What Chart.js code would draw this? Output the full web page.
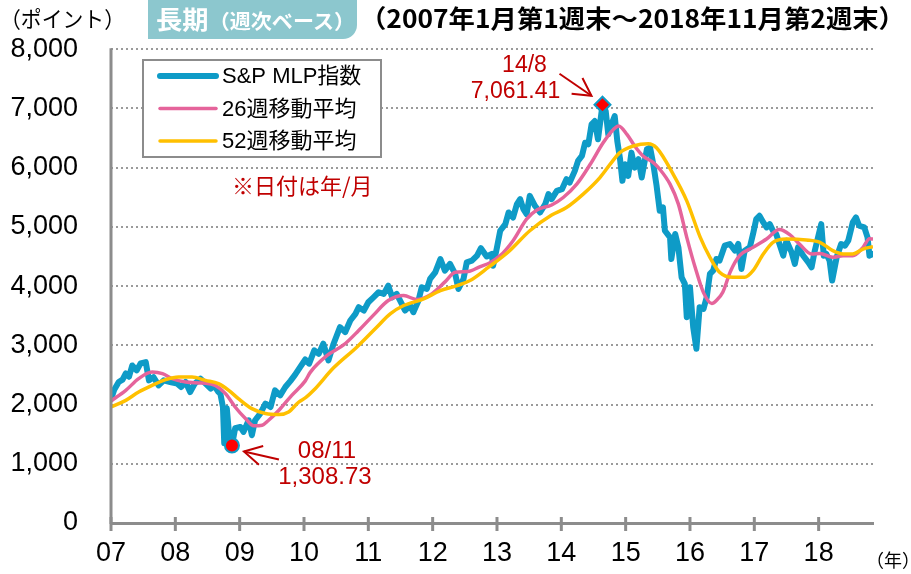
<!DOCTYPE html>
<html><head><meta charset="utf-8">
<script src="https://cdn.jsdelivr.net/npm/chart.js@4/dist/chart.umd.min.js"></script>
<style>
html,body{margin:0;padding:0;background:#fff;width:911px;height:574px;overflow:hidden;}
#wrap{position:relative;width:911px;height:574px;}
canvas{position:absolute;left:0;top:0;}
.lbl{position:absolute;white-space:nowrap;font-family:"Noto Sans CJK JP",sans-serif;line-height:1;transform-origin:0 0;}
</style></head><body>
<div id="wrap">
<canvas id="c" width="911" height="574"></canvas>
<div class="lbl" id="yunit" style="left:0;top:6px;font-size:22px;color:#000;">（ポイント）</div>
<div id="tbox" style="position:absolute;left:148px;top:0;width:209px;height:39px;background:#8CC7CE;border-radius:0 0 14px 0;"></div>
<div class="lbl" id="t1" style="left:156px;top:6px;color:#fff;font-weight:bold;"><span style="font-size:25px">長期</span><span style="font-size:20px">（週次ベース）</span></div>
<div class="lbl" id="t2" style="left:360px;top:5px;font-size:25px;font-weight:bold;color:#000;">（2007年1月第1週末～2018年11月第2週末）</div>
<div class="lbl" id="tyear" style="left:866px;top:550px;font-size:18px;color:#000;">（年）</div>
</div>
<script>
// ---- data (decimal year) ----
const mlpDates = [2007.00,2007.05,2007.12,2007.18,2007.23,2007.28,2007.33,2007.40,2007.46,2007.54,2007.59,2007.66,2007.74,2007.82,2007.92,2008.03,2008.09,2008.16,2008.23,2008.30,2008.39,2008.47,2008.55,2008.60,2008.67,2008.70,2008.74,2008.76,2008.80,2008.83,2008.88,2008.93,2009.01,2009.06,2009.14,2009.19,2009.24,2009.32,2009.40,2009.48,2009.55,2009.63,2009.71,2009.79,2009.86,2009.94,2010.02,2010.08,2010.16,2010.23,2010.30,2010.38,2010.46,2010.56,2010.64,2010.72,2010.80,2010.85,2010.93,2011.00,2011.08,2011.16,2011.24,2011.31,2011.37,2011.44,2011.52,2011.57,2011.65,2011.70,2011.78,2011.83,2011.91,2011.96,2012.04,2012.12,2012.19,2012.27,2012.35,2012.40,2012.48,2012.53,2012.61,2012.69,2012.75,2012.84,2012.92,2012.94,2013.00,2013.05,2013.13,2013.18,2013.25,2013.31,2013.36,2013.41,2013.46,2013.51,2013.59,2013.67,2013.75,2013.80,2013.85,2013.93,2014.01,2014.08,2014.13,2014.21,2014.26,2014.32,2014.37,2014.42,2014.47,2014.52,2014.57,2014.64,2014.69,2014.73,2014.78,2014.83,2014.87,2014.91,2014.95,2014.99,2015.04,2015.09,2015.14,2015.20,2015.25,2015.33,2015.38,2015.43,2015.48,2015.53,2015.58,2015.61,2015.69,2015.71,2015.77,2015.82,2015.87,2015.92,2015.95,2016.00,2016.05,2016.10,2016.15,2016.21,2016.26,2016.31,2016.36,2016.41,2016.46,2016.54,2016.62,2016.70,2016.75,2016.80,2016.85,2016.93,2016.98,2017.03,2017.08,2017.14,2017.19,2017.24,2017.29,2017.34,2017.40,2017.45,2017.50,2017.58,2017.63,2017.68,2017.76,2017.84,2017.89,2017.94,2017.99,2018.04,2018.08,2018.12,2018.17,2018.21,2018.28,2018.35,2018.41,2018.46,2018.53,2018.58,2018.63,2018.71,2018.76,2018.79,2018.84];
const mlpIndex = [2090,2250,2380,2420,2526,2470,2660,2577,2695,2717,2408,2464,2324,2408,2380,2352,2296,2380,2211,2352,2437,2352,2268,2324,2211,2184,1959,1347,1937,1566,1308.73,1600,1622,1538,1735,1482,1735,1848,2016,1959,2240,2156,2296,2400,2500,2633,2760,2690,2914,2858,3027,2745,3027,3306,3222,3419,3532,3643,3587,3727,3811,3896,3868,4008,3811,3868,3700,3587,3672,3559,3756,3980,3952,4121,4233,4458,4261,4374,4205,3952,4121,4401,4430,4514,4640,4500,4542,4345,4654,4935,5047,5243,5159,5384,5469,5300,5216,5524,5356,5243,5384,5553,5469,5608,5636,5805,5748,5945,6114,6198,6421,6395,6731,6787,6479,7061.41,6956,6563,6731,6872,6451,6169,5777,6058,5861,6254,6000,6142,5833,6310,6337,6058,5700,5272,5327,4935,4823,4458,4879,4654,4148,4037,3475,3980,3306,2942,3643,3615,3811,4205,4261,4458,4430,4682,4711,4598,4711,4289,4598,4654,4879,5132,5187,5075,4991,5047,4935,4879,4682,4514,4767,4570,4374,4654,4514,4401,4317,4598,4823,5047,4514,4542,4430,4093,4486,4711,4682,4767,5075,5159,5019,4991,4823,4514,4542];

const ma26Dates = [2007.00,2007.23,2007.43,2007.64,2007.80,2007.95,2008.16,2008.42,2008.62,2008.78,2008.93,2009.09,2009.22,2009.35,2009.45,2009.61,2009.81,2010.02,2010.10,2010.36,2010.62,2010.85,2011.08,2011.31,2011.55,2011.75,2011.96,2012.20,2012.35,2012.55,2012.74,2012.89,2013.05,2013.25,2013.46,2013.62,2013.85,2014.03,2014.24,2014.45,2014.65,2014.81,2014.89,2015.02,2015.14,2015.27,2015.43,2015.53,2015.69,2015.82,2015.95,2016.08,2016.21,2016.34,2016.41,2016.51,2016.63,2016.77,2016.98,2017.19,2017.39,2017.55,2017.71,2017.89,2018.02,2018.22,2018.38,2018.53,2018.69,2018.79,2018.845];
const ma26 = [2060,2240,2437,2548,2521,2437,2380,2363,2324,2184,1959,1763,1640,1651,1735,1903,2156,2400,2548,2830,3010,3250,3510,3756,3840,3775,3850,4080,4233,4245,4330,4395,4514,4767,5130,5286,5370,5496,5721,6058,6421,6646,6703,6563,6366,6198,6085,5974,5721,5384,4823,4317,3890,3705,3756,3896,4250,4514,4654,4795,4955,4870,4700,4542,4550,4486,4514,4514,4654,4800,4795];

const ma52Dates = [2007.00,2007.23,2007.43,2007.64,2007.85,2008.05,2008.26,2008.47,2008.67,2008.83,2008.98,2009.19,2009.40,2009.61,2009.76,2009.92,2010.03,2010.15,2010.46,2010.82,2011.13,2011.34,2011.55,2011.86,2012.12,2012.38,2012.58,2012.87,2013.18,2013.51,2013.85,2014.08,2014.34,2014.60,2014.76,2014.91,2015.12,2015.35,2015.48,2015.74,2015.95,2016.16,2016.31,2016.46,2016.67,2016.85,2016.98,2017.14,2017.29,2017.50,2017.81,2018.02,2018.22,2018.38,2018.53,2018.69,2018.845];
const ma52 = [1960,2071,2211,2324,2420,2464,2464,2408,2352,2240,2100,1931,1848,1830,1875,2043,2120,2240,2620,2969,3306,3532,3672,3784,3924,4008,4093,4320,4580,4935,5200,5327,5553,5833,6058,6254,6366,6405,6337,5888,5440,4823,4486,4233,4148,4148,4261,4542,4738,4795,4778,4738,4598,4542,4542,4626,4665];

const yearTicks = [2007,2008,2009,2010,2011,2012,2013,2014,2015,2016,2017,2018];
const yearLabels = ['07','08','09','10','11','12','13','14','15','16','17','18'];
const seriesNames = ['S&P MLP指数','26週移動平均','52週移動平均'];
const peak = {date:2014.64, value:7061.41, label1:'14/8', label2:'7,061.41'};
const trough = {date:2008.88, value:1308.73, label1:'08/11', label2:'1,308.73'};

const BLUE='#0E9BC7', PINK='#E5649B', YELLOW='#FFC000', RED='#C00000', AXIS='#8C8C8C';
const NUMFONT='"Liberation Sans", Arial, sans-serif';
const JPFONT='"Liberation Sans","Noto Sans CJK JP", sans-serif';

const pts = (xs, ys) => xs.map((x,i)=>({x:x, y:ys[i]}));

function arrow(ctx, tx, ty, fx, fy){
  ctx.beginPath(); ctx.moveTo(fx,fy); ctx.lineTo(tx,ty); ctx.stroke();
  const a = Math.atan2(fy-ty, fx-tx), L=20, s=0.5;
  ctx.beginPath();
  ctx.moveTo(tx+L*Math.cos(a+s), ty+L*Math.sin(a+s));
  ctx.lineTo(tx,ty);
  ctx.lineTo(tx+L*Math.cos(a-s), ty+L*Math.sin(a-s));
  ctx.stroke();
}

const deco = {
  id:'deco',
  afterDraw(chart){
    const ctx=chart.ctx, a=chart.chartArea, xs=chart.scales.x, ys=chart.scales.y;
    ctx.save();
    // y axis line
    ctx.strokeStyle=AXIS; ctx.lineWidth=3;
    ctx.beginPath(); ctx.moveTo(a.left, a.top-1); ctx.lineTo(a.left, a.bottom+1); ctx.stroke();
    // x tick marks crossing the axis
    yearTicks.forEach(v=>{
      const px=xs.getPixelForValue(v);
      ctx.beginPath(); ctx.moveTo(px, a.bottom-6); ctx.lineTo(px, a.bottom+8); ctx.stroke();
    });
    // legend box
    const lx=143, ly=60, lw=238, lh=97;
    ctx.fillStyle='#fff'; ctx.fillRect(lx,ly,lw,lh);
    ctx.strokeStyle=AXIS; ctx.lineWidth=2; ctx.strokeRect(lx,ly,lw,lh);
    const cols=[BLUE,PINK,YELLOW], widths=[6,3.5,3.5], rows=[76,108.5,141];
    ctx.lineCap='round';
    ctx.font='22px '+JPFONT; ctx.textBaseline='middle'; ctx.textAlign='left'; ctx.fillStyle='#000';
    for(let i=0;i<3;i++){
      ctx.strokeStyle=cols[i]; ctx.lineWidth=widths[i];
      ctx.beginPath(); ctx.moveTo(160,rows[i]); ctx.lineTo(216,rows[i]); ctx.stroke();
      ctx.fillText(seriesNames[i], 222, rows[i]+1);
    }
    // note
    ctx.fillStyle=RED; ctx.font='22px "Noto Sans CJK JP", sans-serif';
    ctx.fillText('※日付は年/月', 232, 186);
    // peak annotation
    const px=xs.getPixelForValue(peak.date), py=ys.getPixelForValue(peak.value);
    ctx.font='23px '+NUMFONT; ctx.textAlign='center';
    ctx.fillText(peak.label1, px-78, py-39);
    ctx.fillText(peak.label2, px-87, py-13);
    ctx.strokeStyle=RED; ctx.lineWidth=2; ctx.lineCap='butt';
    arrow(ctx, px-11, py-9, px-43, py-31);
    // trough annotation
    const tx=xs.getPixelForValue(trough.date), ty=ys.getPixelForValue(trough.value);
    ctx.font='24px '+NUMFONT;
    ctx.fillText(trough.label1, tx+95, ty+6);
    ctx.fillText(trough.label2, tx+93, ty+32);
    arrow(ctx, tx+12, ty+6, tx+47, ty+14);
    ctx.restore();
  }
};

new Chart(document.getElementById('c'), {
  type:'line',
  data:{datasets:[
    {label:seriesNames[0], data:pts(mlpDates, mlpIndex), borderColor:BLUE, borderWidth:6, pointRadius:0, tension:0, borderJoinStyle:'round', borderCapStyle:'round', order:3},
    {label:seriesNames[1], data:pts(ma26Dates, ma26), borderColor:PINK, borderWidth:3.5, pointRadius:0, tension:0.4, cubicInterpolationMode:'monotone', order:2},
    {label:seriesNames[2], data:pts(ma52Dates, ma52), borderColor:YELLOW, borderWidth:3.5, pointRadius:0, tension:0.4, cubicInterpolationMode:'monotone', order:1},
    {label:'trough', data:[{x:trough.date,y:trough.value}], showLine:false, pointStyle:'circle', pointRadius:7, backgroundColor:'#FF0000', borderColor:BLUE, pointBorderWidth:2, order:0},
    {label:'peak', data:[{x:peak.date,y:peak.value}], showLine:false, pointStyle:'rectRot', pointRadius:8, backgroundColor:'#FF0000', borderColor:BLUE, pointBorderWidth:2, order:0}
  ]},
  options:{
    responsive:false, animation:false, devicePixelRatio:1, events:[],
    layout:{padding:{top:48,right:38,left:0,bottom:0}},
    plugins:{legend:{display:false}, tooltip:{enabled:false}},
    scales:{
      x:{type:'linear', min:2007, max:2018.845,
        afterFit(s){ s.height=51; },
        afterBuildTicks(s){ s.ticks=yearTicks.map(v=>({value:v})); },
        grid:{display:false, drawTicks:false},
        border:{display:true, color:AXIS, width:3},
        ticks:{autoSkip:false, maxRotation:0, padding:14, color:'#000', font:{family:NUMFONT, size:27},
          callback:(v)=>{const i=yearTicks.indexOf(Math.round(v)); return i>=0?yearLabels[i]:'';}}
      },
      y:{min:0, max:8000,
        afterFit(s){ s.width=111; },
        grid:{color:'#9A9A9A', lineWidth:2, drawTicks:false},
        border:{display:false, dash:[2,3]},
        ticks:{stepSize:1000, padding:33, color:'#000', font:{family:NUMFONT, size:27},
          callback:(v)=>Number(v).toLocaleString('en-US')}
      }
    }
  },
  plugins:[deco]
});

function fit(id, w){
  const el=document.getElementById(id);
  const cw=el.getBoundingClientRect().width;
  el.style.transform='scaleX('+(w/cw)+')';
}
fit('t1', 199);
fit('t2', 545);
fit('yunit', 125);
</script>
</body></html>
